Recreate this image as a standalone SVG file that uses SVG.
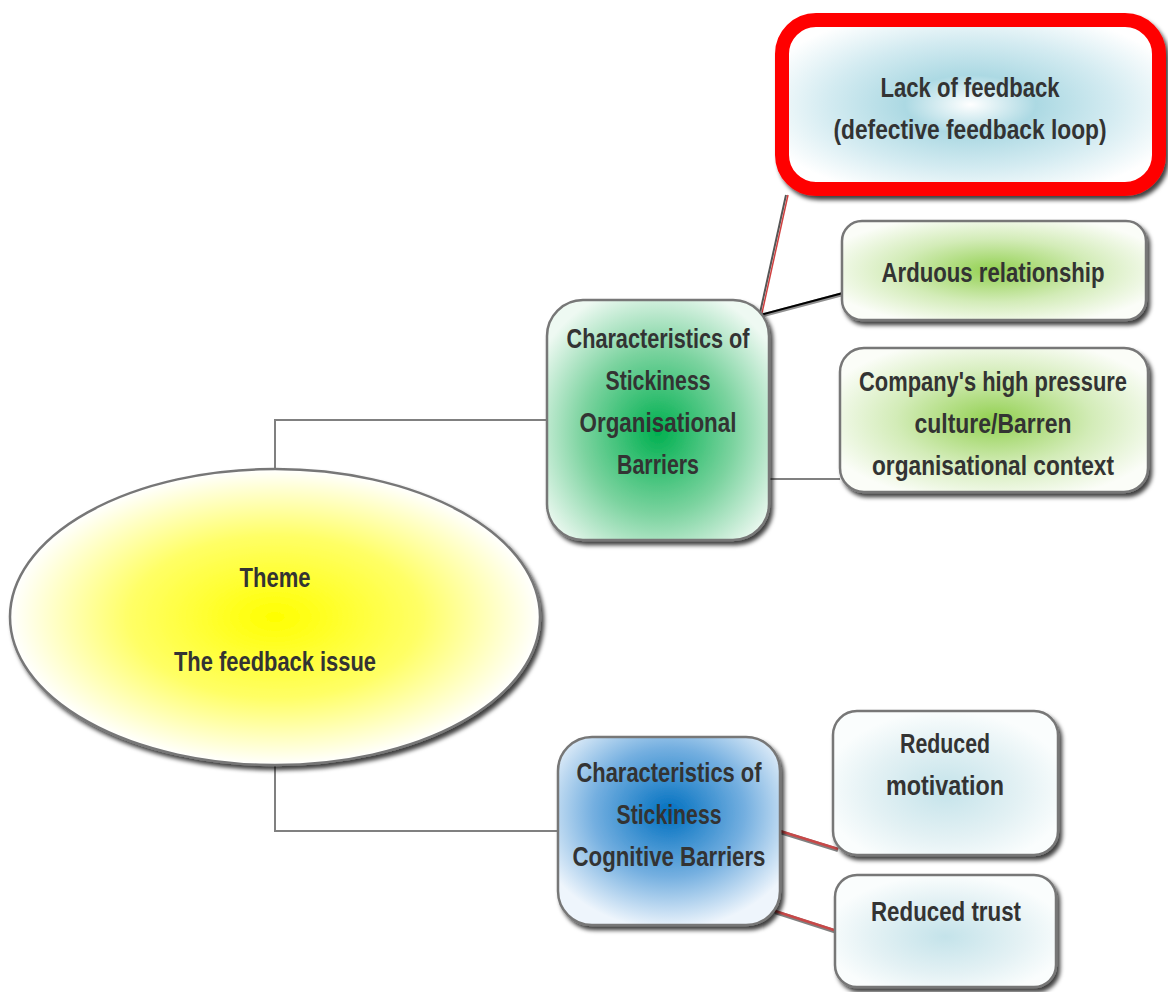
<svg xmlns="http://www.w3.org/2000/svg" width="1168" height="992" viewBox="0 0 1168 992">
  <style>
    .lbl { font-family: "Liberation Sans", Arial, sans-serif; font-weight: bold; font-size: 27px; fill: #333333; text-anchor: middle; }
    .box { stroke: #777777; stroke-width: 2.5; filter: url(#shadow); }
    .conn { fill: none; stroke: #808080; stroke-width: 2; }
  </style>
  <defs>
    <filter id="shadow" x="-10%" y="-10%" width="125%" height="130%">
      <feDropShadow dx="3" dy="4" stdDeviation="2" flood-color="#000000" flood-opacity="0.75"/>
    </filter>
    <radialGradient id="gYellow" cx="50%" cy="50%" r="50%">
      <stop offset="0" stop-color="#ffff00"/>
      <stop offset="0.55" stop-color="#ffff66"/>
      <stop offset="1" stop-color="#ffffff"/>
    </radialGradient>
    <radialGradient id="gGreen" cx="50%" cy="55%" r="62%">
      <stop offset="0" stop-color="#00b050"/>
      <stop offset="0.55" stop-color="#7bd39f"/>
      <stop offset="1" stop-color="#eef9f2"/>
    </radialGradient>
    <radialGradient id="gBlue" cx="50%" cy="40%" r="62%">
      <stop offset="0" stop-color="#0070c0"/>
      <stop offset="0.55" stop-color="#74afe0"/>
      <stop offset="1" stop-color="#eef5fc"/>
    </radialGradient>
    <radialGradient id="gLime" cx="50%" cy="50%" r="58%">
      <stop offset="0" stop-color="#92d050"/>
      <stop offset="0.55" stop-color="#d3ecb8"/>
      <stop offset="1" stop-color="#fbfdf8"/>
    </radialGradient>
    <radialGradient id="gCyan" cx="50%" cy="55%" r="55%">
      <stop offset="0" stop-color="#c4e3ea"/>
      <stop offset="0.6" stop-color="#e3f1f4"/>
      <stop offset="1" stop-color="#fafdfd"/>
    </radialGradient>
    <radialGradient id="gFeedback" cx="50%" cy="50%" r="58%">
      <stop offset="0" stop-color="#ffffff"/>
      <stop offset="0.3" stop-color="#acd9e3"/>
      <stop offset="0.65" stop-color="#d3ebf1"/>
      <stop offset="1" stop-color="#ffffff"/>
    </radialGradient>
  </defs>

  <rect width="1168" height="992" fill="#ffffff"/>

  <!-- connectors -->
  <g id="connectors">
    <polyline class="conn" points="275,468 275,420 547,420"/>
    <polyline class="conn" points="275,766 275,831 558,831"/>
    <line x1="760" y1="313" x2="786" y2="195" stroke="#555555" stroke-width="2"/>
    <line x1="762" y1="313" x2="788" y2="195" stroke="#d04040" stroke-width="1.5"/>
    <line x1="760" y1="316" x2="843" y2="294" stroke="#909090" stroke-width="4"/>
    <line x1="760" y1="315" x2="843" y2="293" stroke="#000000" stroke-width="2"/>
    <line class="conn" x1="769" y1="479" x2="840" y2="479"/>
    <line x1="780" y1="832" x2="838" y2="850" stroke="#808080" stroke-width="4"/>
    <line x1="780" y1="831" x2="838" y2="849" stroke="#c84848" stroke-width="2.5"/>
    <line x1="775" y1="912" x2="837" y2="932" stroke="#808080" stroke-width="4"/>
    <line x1="775" y1="911" x2="837" y2="931" stroke="#c84848" stroke-width="2.5"/>
  </g>

  <!-- central theme -->
  <g id="theme">
    <ellipse class="box" cx="275" cy="617" rx="265" ry="148" fill="url(#gYellow)"/>
    <text class="lbl" x="275" y="587" textLength="71" lengthAdjust="spacingAndGlyphs">Theme</text>
    <text class="lbl" x="275" y="671" textLength="202" lengthAdjust="spacingAndGlyphs">The feedback issue</text>
  </g>

  <!-- organisational barriers -->
  <g id="organisational">
    <rect class="box" x="547" y="300" width="222" height="240" rx="36" fill="url(#gGreen)"/>
    <text class="lbl" x="658" y="348" textLength="183" lengthAdjust="spacingAndGlyphs">Characteristics of</text>
    <text class="lbl" x="658" y="390" textLength="105" lengthAdjust="spacingAndGlyphs">Stickiness</text>
    <text class="lbl" x="658" y="432" textLength="157" lengthAdjust="spacingAndGlyphs">Organisational</text>
    <text class="lbl" x="658" y="474" textLength="82" lengthAdjust="spacingAndGlyphs">Barriers</text>
  </g>

  <!-- cognitive barriers -->
  <g id="cognitive">
    <rect class="box" x="558" y="737" width="222" height="188" rx="34" fill="url(#gBlue)"/>
    <text class="lbl" x="669" y="782" textLength="185" lengthAdjust="spacingAndGlyphs">Characteristics of</text>
    <text class="lbl" x="669" y="824" textLength="105" lengthAdjust="spacingAndGlyphs">Stickiness</text>
    <text class="lbl" x="669" y="866" textLength="193" lengthAdjust="spacingAndGlyphs">Cognitive Barriers</text>
  </g>

  <!-- lack of feedback -->
  <g id="lack-feedback">
    <rect x="782" y="20" width="377" height="169" rx="34" fill="url(#gFeedback)" stroke="#ff0000" stroke-width="14" filter="url(#shadow)"/>
    <text class="lbl" x="970" y="97" textLength="179" lengthAdjust="spacingAndGlyphs">Lack of feedback</text>
    <text class="lbl" x="970" y="139" textLength="273" lengthAdjust="spacingAndGlyphs">(defective feedback loop)</text>
  </g>

  <!-- arduous relationship -->
  <g id="arduous">
    <rect class="box" x="842" y="221" width="304" height="99" rx="20" fill="url(#gLime)"/>
    <text class="lbl" x="993" y="282" textLength="223" lengthAdjust="spacingAndGlyphs">Arduous relationship</text>
  </g>

  <!-- company culture -->
  <g id="company">
    <rect class="box" x="840" y="348" width="308" height="144" rx="24" fill="url(#gLime)"/>
    <text class="lbl" x="993" y="391" textLength="268" lengthAdjust="spacingAndGlyphs">Company's high pressure</text>
    <text class="lbl" x="993" y="433" textLength="157" lengthAdjust="spacingAndGlyphs">culture/Barren</text>
    <text class="lbl" x="993" y="475" textLength="242" lengthAdjust="spacingAndGlyphs">organisational context</text>
  </g>

  <!-- reduced motivation -->
  <g id="motivation">
    <rect class="box" x="833" y="711" width="225" height="144" rx="24" fill="url(#gCyan)"/>
    <text class="lbl" x="945" y="753" textLength="90" lengthAdjust="spacingAndGlyphs">Reduced</text>
    <text class="lbl" x="945" y="795" textLength="118" lengthAdjust="spacingAndGlyphs">motivation</text>
  </g>

  <!-- reduced trust -->
  <g id="trust">
    <rect class="box" x="835" y="875" width="221" height="112" rx="22" fill="url(#gCyan)"/>
    <text class="lbl" x="946" y="921" textLength="150" lengthAdjust="spacingAndGlyphs">Reduced trust</text>
  </g>
</svg>
